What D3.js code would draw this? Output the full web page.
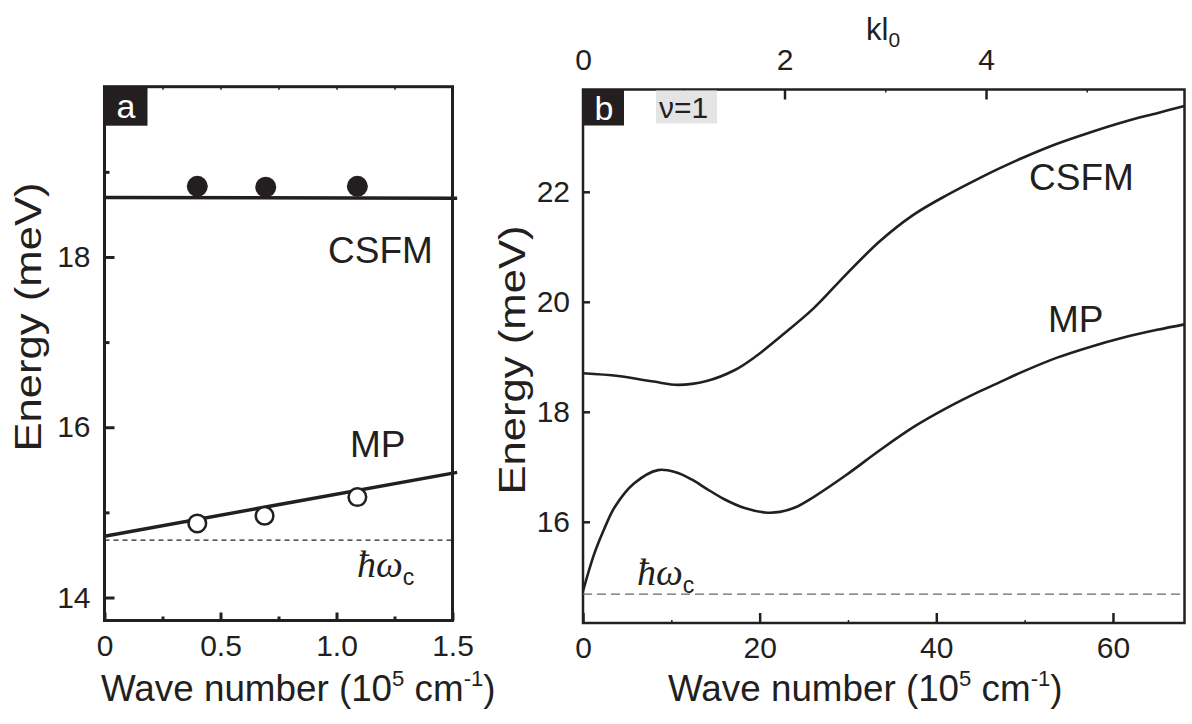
<!DOCTYPE html>
<html><head><meta charset="utf-8">
<script src="https://cdn.jsdelivr.net/npm/d3@7"></script>
<style>
body{margin:0;background:#fff}
svg text{font-family:"Liberation Sans",Arial,Helvetica,sans-serif;fill:#231f20}
</style>
</head><body><svg id="c" width="1192" height="724"></svg>
<script>
// ---------- Panel a data ----------
const aMajorY = [14, 16, 18];
const aMinorY = [15, 17, 19];
const aMajorX = [0, 0.5, 1.0, 1.5];
const aMinorX = [0.25, 0.75, 1.25];
const aXLabels = ["0", "0.5", "1.0", "1.5"];
const csfmFitX = [0, 1.52];
const csfmFitE = [18.70, 18.69];
const mpFitX = [0, 1.52];
const mpFitE = [14.72, 15.47];
const csfmDataX = [0.40, 0.695, 1.09];
const csfmDataE = [18.83, 18.82, 18.83];
const mpDataX = [0.40, 0.69, 1.09];
const mpDataE = [14.87, 14.96, 15.18];
const hwcA = 14.675;

// ---------- Panel b data ----------
const kCSFM = [0, 4, 8, 10.75, 14, 17.2, 19.5, 22.3, 26.1, 29.8, 33.6, 37.4, 41.2, 44.9, 47.2, 49.8, 53.6, 57.4, 61.2, 65.0, 68.1];
const eCSFM = [18.70, 18.65, 18.55, 18.49, 18.56, 18.76, 19.0, 19.36, 19.88, 20.50, 21.10, 21.58, 21.94, 22.25, 22.43, 22.62, 22.87, 23.08, 23.27, 23.43, 23.56];
const kMP = [0, 1.3, 2.4, 3.6, 5.8, 8.5, 10.5, 12.3, 14, 16.0, 18.3, 20.6, 22.3, 24.0, 26.1, 29.8, 33.6, 37.4, 41.2, 44.9, 47.2, 49.8, 53.6, 57.4, 61.2, 65.0, 68.1];
const eMP = [14.74, 15.43, 15.87, 16.27, 16.70, 16.94, 16.90, 16.77, 16.60, 16.41, 16.25, 16.17, 16.18, 16.26, 16.45, 16.85, 17.30, 17.72, 18.07, 18.37, 18.54, 18.73, 18.98, 19.18, 19.35, 19.49, 19.59];
const bMajorX = [0, 20, 40, 60];
const bMinorX = [10, 30, 50];
const bMajorY = [16, 18, 20, 22];
const topMajor = [0, 2, 4];
const topMinor = [1, 3, 5];
const hwcB = 14.685;

const ink = "#231f20";
const svg = d3.select("#c");

// ---------- scales ----------
const xa = d3.scaleLinear([0, 1.5], [104.5, 452.5]);
const ya = d3.scaleLinear([13.73, 20.0], [620.5, 86.7]);
const xb = d3.scaleLinear([0, 68.1], [583, 1184.5]);
const yb = d3.scaleLinear([14.16, 23.86], [623, 89.5]);
const xt = d3.scaleLinear([0, 5.97], [583, 1184.5]);

function styleAxis(g, w, fs) {
  g.select(".domain").remove();
  g.selectAll(".tick line").attr("stroke", ink).attr("stroke-width", w);
  g.selectAll(".tick text").attr("font-size", fs).attr("fill", ink)
    .attr("font-family", '"Liberation Sans",Arial,sans-serif');
}

// ================= Panel a =================
const ga = svg.append("g");
ga.append("g").attr("transform", `translate(${xa.range()[0]},0)`)
  .call(d3.axisLeft(ya).tickValues(aMajorY).tickSize(-10).tickPadding(14).tickFormat(d3.format("d")))
  .call(g => styleAxis(g, 3, 30));
ga.append("g").attr("transform", `translate(${xa.range()[0]},0)`)
  .call(d3.axisLeft(ya).tickValues(aMinorY).tickSize(-5).tickFormat(""))
  .call(g => styleAxis(g, 3, 30));
ga.append("g").attr("transform", `translate(0,${ya.range()[0]})`)
  .call(d3.axisBottom(xa).tickValues(aMajorX).tickSize(-8).tickPadding(14).tickFormat((d, i) => aXLabels[i]))
  .call(g => styleAxis(g, 3, 30));
ga.append("g").attr("transform", `translate(0,${ya.range()[0]})`)
  .call(d3.axisBottom(xa).tickValues(aMinorX).tickSize(-4).tickFormat(""))
  .call(g => styleAxis(g, 3, 30));
ga.append("g").attr("transform", `translate(0,${ya.range()[1]})`)
  .call(d3.axisTop(xa).tickValues(aMinorX.concat([0.5, 1.0])).tickSize(-3).tickFormat(""))
  .call(g => styleAxis(g, 1.5, 30));
ga.append("rect").attr("x", xa.range()[0]).attr("y", ya.range()[1])
  .attr("width", xa.range()[1] - xa.range()[0]).attr("height", ya.range()[0] - ya.range()[1])
  .attr("fill", "none").attr("stroke", ink).attr("stroke-width", 3);

ga.append("line").attr("x1", xa(0)).attr("x2", xa(1.5)).attr("y1", ya(hwcA)).attr("y2", ya(hwcA))
  .attr("stroke", ink).attr("stroke-width", 1.2).attr("stroke-dasharray", "5,4");

const lineA = d3.line().x(d => xa(d[0])).y(d => ya(d[1]));
ga.append("path").datum(d3.zip(csfmFitX, csfmFitE)).attr("d", lineA)
  .attr("fill", "none").attr("stroke", ink).attr("stroke-width", 3.5);
ga.append("path").datum(d3.zip(mpFitX, mpFitE)).attr("d", lineA)
  .attr("fill", "none").attr("stroke", ink).attr("stroke-width", 3.5);

ga.selectAll("circle.f").data(d3.zip(csfmDataX, csfmDataE)).join("circle")
  .attr("class", "f").attr("cx", d => xa(d[0])).attr("cy", d => ya(d[1])).attr("r", 10.5).attr("fill", ink);
ga.selectAll("circle.o").data(d3.zip(mpDataX, mpDataE)).join("circle")
  .attr("class", "o").attr("cx", d => xa(d[0])).attr("cy", d => ya(d[1])).attr("r", 8.8)
  .attr("fill", "#fff").attr("stroke", ink).attr("stroke-width", 2.5);

ga.append("rect").attr("x", xa.range()[0]).attr("y", ya.range()[1]).attr("width", 43).attr("height", 39).attr("fill", ink);
ga.append("text").attr("x", 126).attr("y", 118).attr("text-anchor", "middle").attr("font-size", 34)
  .style("fill", "#fff").text("a");

ga.append("text").attr("x", 328).attr("y", 263).attr("font-size", 37).text("CSFM");
ga.append("text").attr("x", 350).attr("y", 457).attr("font-size", 37).text("MP");

function hwc(g, x, y) {
  const t = g.append("text").attr("x", x).attr("y", y);
  t.append("tspan").attr("font-family", '"Liberation Serif","Times New Roman",serif')
    .attr("font-style", "italic").attr("font-size", 38).text("ħω");
  t.append("tspan").attr("font-size", 23).attr("dy", 8).text("c");
}
hwc(ga, 357, 577);

function waveLabel(g, x, y, fs) {
  const t = g.append("text").attr("x", x).attr("y", y).attr("font-size", fs);
  t.append("tspan").text("Wave number (10");
  t.append("tspan").attr("font-size", fs * 0.6).attr("dy", -fs * 0.4).text("5");
  t.append("tspan").attr("dy", fs * 0.4).text(" cm");
  t.append("tspan").attr("font-size", fs * 0.6).attr("dy", -fs * 0.4).text("-1");
  t.append("tspan").attr("dy", fs * 0.4).text(")");
}
waveLabel(ga, 101, 701, 36.8);

function energyLabel(g, x, cy) {
  g.append("text").attr("transform", `translate(${x},${cy}) rotate(-90) scale(1.18,1)`)
    .attr("text-anchor", "middle").attr("font-size", 37).text("Energy (meV)");
}
energyLabel(ga, 41, 317);

// ================= Panel b =================
const gb = svg.append("g");
gb.append("g").attr("transform", `translate(${xb.range()[0]},0)`)
  .call(d3.axisLeft(yb).tickValues(bMajorY).tickSize(-7).tickPadding(13).tickFormat(d3.format("d")))
  .call(g => styleAxis(g, 2.5, 30));
gb.append("g").attr("transform", `translate(0,${yb.range()[0]})`)
  .call(d3.axisBottom(xb).tickValues(bMajorX).tickSize(-10).tickPadding(14).tickFormat(d3.format("d")))
  .call(g => styleAxis(g, 2.5, 30));
gb.append("g").attr("transform", `translate(0,${yb.range()[0]})`)
  .call(d3.axisBottom(xb).tickValues(bMinorX).tickSize(-3).tickFormat(""))
  .call(g => styleAxis(g, 1.5, 30));
gb.append("g").attr("transform", `translate(0,${yb.range()[1]})`)
  .call(d3.axisTop(xt).tickValues(topMajor).tickSize(-10).tickPadding(20).tickFormat(d3.format("d")))
  .call(g => styleAxis(g, 2.5, 30));
gb.append("g").attr("transform", `translate(0,${yb.range()[1]})`)
  .call(d3.axisTop(xt).tickValues(topMinor).tickSize(-3).tickFormat(""))
  .call(g => styleAxis(g, 1.5, 30));

gb.append("rect").attr("x", xb.range()[0]).attr("y", yb.range()[1])
  .attr("width", xb.range()[1] - xb.range()[0]).attr("height", yb.range()[0] - yb.range()[1])
  .attr("fill", "none").attr("stroke", ink).attr("stroke-width", 2.5);

gb.append("line").attr("x1", xb(0)).attr("x2", xb(68)).attr("y1", yb(hwcB)).attr("y2", yb(hwcB))
  .attr("stroke", "#666").attr("stroke-width", 1.3).attr("stroke-dasharray", "9,5");

const lineB = d3.line().x(d => xb(d[0])).y(d => yb(d[1])).curve(d3.curveCatmullRom.alpha(0.5));
gb.append("path").datum(d3.zip(kCSFM, eCSFM)).attr("d", lineB)
  .attr("fill", "none").attr("stroke", ink).attr("stroke-width", 2.6);
gb.append("path").datum(d3.zip(kMP, eMP)).attr("d", lineB)
  .attr("fill", "none").attr("stroke", ink).attr("stroke-width", 2.6);

gb.append("rect").attr("x", xb.range()[0]).attr("y", yb.range()[1]).attr("width", 41).attr("height", 36).attr("fill", ink);
gb.append("text").attr("x", 604).attr("y", 120).attr("text-anchor", "middle").attr("font-size", 34)
  .style("fill", "#fff").text("b");
gb.append("rect").attr("x", 656).attr("y", 90.5).attr("width", 61).attr("height", 33).attr("fill", "#e4e4e4");
gb.append("text").attr("x", 659).attr("y", 118).attr("font-size", 30).text("ν=1");

gb.append("text").attr("x", 1029).attr("y", 190).attr("font-size", 37).text("CSFM");
gb.append("text").attr("x", 1048).attr("y", 332).attr("font-size", 37).text("MP");
hwc(gb, 637, 585);

const kl = gb.append("text").attr("x", 866).attr("y", 40).attr("font-size", 31);
kl.append("tspan").text("kl");
kl.append("tspan").attr("font-size", 21).attr("dy", 7).text("0");

waveLabel(gb, 668, 701, 36.8);
energyLabel(gb, 525, 360);
</script></body></html>
